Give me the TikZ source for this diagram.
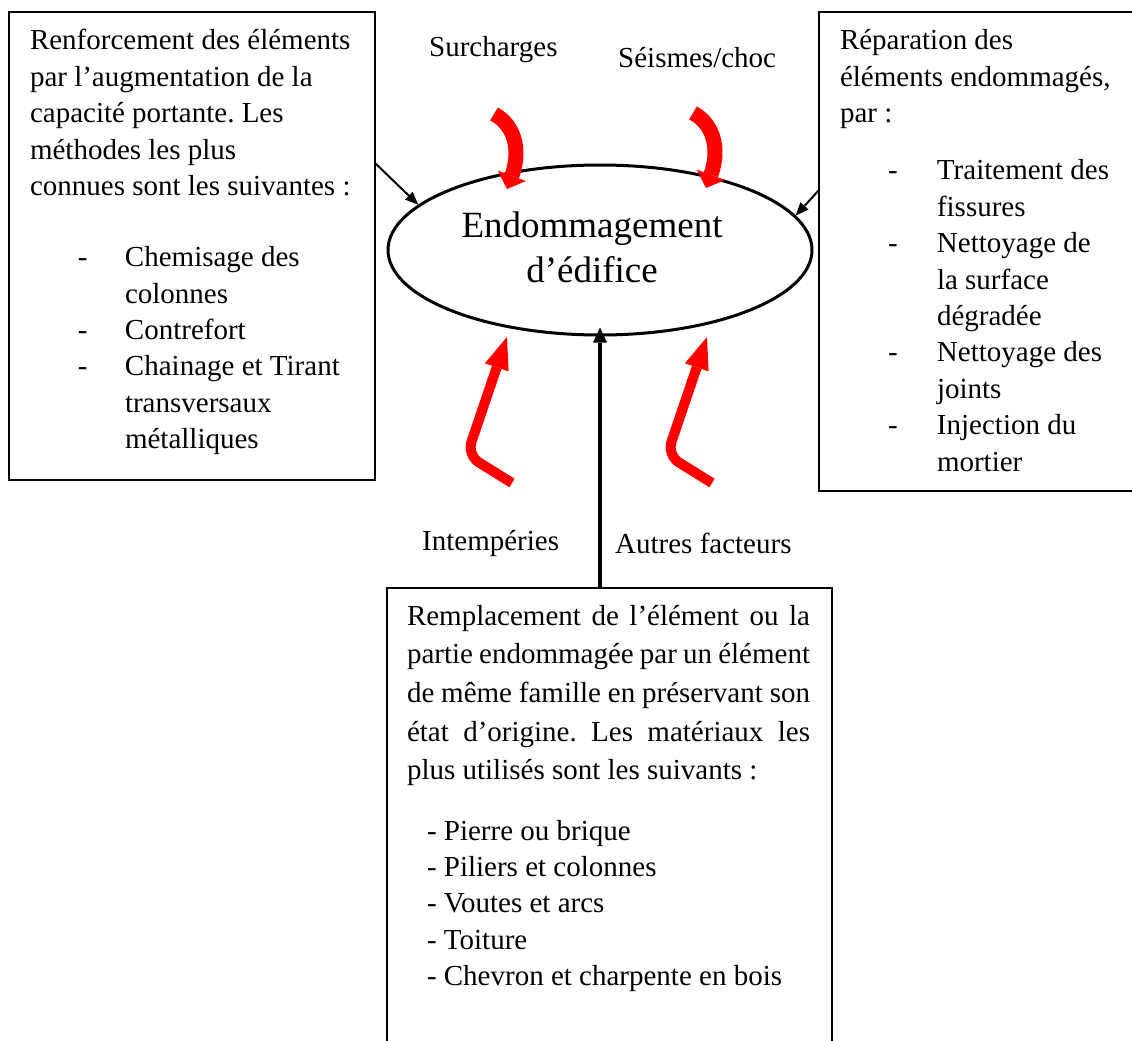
\documentclass[tikz,border=0pt]{standalone}
\usepackage{fontspec}
\setmainfont{Liberation Serif}
\usetikzlibrary{shapes.geometric,arrows.meta}
\tikzset{
  txt/.style={inner sep=0pt, font=\fontsize{29}{36.4}\selectfont},
  bigtxt/.style={inner sep=0pt, font=\fontsize{37}{45}\selectfont},
  box/.style={draw=black, rectangle, inner sep=0pt, outer sep=0pt, anchor=north west, font=\fontsize{29}{36.4}\selectfont},
  blkarrow/.style={draw=black, line width=2pt, -{Triangle[length=13pt,width=11pt,line width=0pt]}},
  vertarrow/.style={draw=black, line width=3.5pt, -{Triangle[length=15pt,width=14pt,line width=0pt]}},
  redcurve/.style={draw=red, line width=15pt, -{Triangle[length=14pt,width=30pt,line width=0pt]}},
  redbent/.style={draw=red, line width=10pt, rounded corners=14pt, -{Triangle[length=32pt,width=25pt,line width=0pt]}}
}
\begin{document}
\begin{tikzpicture}[x=1pt,y=-1pt]
\clip (0,0) rectangle (1132,1041);
\fill[white] (0,0) rectangle (1132,1041);

% central ellipse
\node[ellipse, draw=black, line width=3pt, minimum width=424pt, minimum height=170pt, inner sep=0pt] (ell) at (600,250) {};
\node[bigtxt, anchor=base] (ellA) at (592,237) {Endommagement};
\node[bigtxt, anchor=base] (ellB) at (592,282) {d’édifice};

% left box
\node[box, line width=1.2pt] (lbox) at (9,12) {\parbox[t][468pt][t]{366pt}{\raggedright\leftskip=21pt\frenchspacing
\rule{0pt}{38pt}Renforcement des éléments\\
par l’augmentation de la\\
capacité portante. Les\\
méthodes les plus\\
connues sont les suivantes :\\[34.6pt]
\makebox[95pt][l]{\hspace{48pt}-}Chemisage des\\
\hspace*{95pt}colonnes\\
\makebox[95pt][l]{\hspace{48pt}-}Contrefort\\
\makebox[95pt][l]{\hspace{48pt}-}Chainage et Tirant\\
\hspace*{95pt}transversaux\\
\hspace*{95pt}métalliques}};

% right box
\node[box, line width=2.2pt] (rbox) at (819,12) {\parbox[t][479pt][t]{340pt}{\raggedright\leftskip=21pt\frenchspacing
\rule{0pt}{38pt}Réparation des\\
éléments endommagés,\\
par :\\[20.8pt]
\makebox[97pt][l]{\hspace{48pt}-}Traitement des\\
\hspace*{97pt}fissures\\
\makebox[97pt][l]{\hspace{48pt}-}Nettoyage de\\
\hspace*{97pt}la surface\\
\hspace*{97pt}dégradée\\
\makebox[97pt][l]{\hspace{48pt}-}Nettoyage des\\
\hspace*{97pt}joints\\
\makebox[97pt][l]{\hspace{48pt}-}Injection du\\
\hspace*{97pt}mortier}};

% bottom box
\node[box, line width=1.3pt] (bbox) at (387,588) {\parbox[t][480pt][t]{445pt}{\raggedright\leftskip=20pt\frenchspacing
\rule{0pt}{37pt}\makebox[403pt][s]{Remplacement de l’élément ou la}\\[2.3pt]
\makebox[403pt][s]{partie endommagée par un élément}\\[2.3pt]
\makebox[403pt][s]{de même famille en préservant son}\\[2.3pt]
\makebox[403pt][s]{état d’origine. Les matériaux les}\\[2.3pt]
plus utilisés sont les suivants :\\[23.8pt]
\hspace*{20pt}- Pierre ou brique\\
\hspace*{20pt}- Piliers et colonnes\\
\hspace*{20pt}- Voutes et arcs\\
\hspace*{20pt}- Toiture\\
\hspace*{20pt}- Chevron et charpente en bois}};

% factor labels
\node[txt, anchor=base west] (lsur) at (429,57) {Surcharges};
\node[txt, anchor=base west] (lsei) at (618,67) {Séismes/choc};
\node[txt, anchor=base west] (lint) at (422,550) {Intempéries};
\node[txt, anchor=base west] (laut) at (615,553) {Autres facteurs};

% black connectors
\draw[blkarrow] ([yshift=-151pt]lbox.north east) -- (ell.166);
\draw[blkarrow] ([yshift=-178pt]rbox.north west) -- (ell.10);
\draw[vertarrow] (ell.south |- bbox.north) -- ([yshift=9pt]ell.south);

% red factor arrows
\draw[redcurve] (494,114) .. controls (515,125) and (521,151) .. (507,189);
\draw[redcurve] (693,113) .. controls (714,124) and (720,150) .. (706,188);
\draw[redbent] (512,483) -- (467,455) -- (507,337);
\draw[redbent] (712,483) -- (667,455) -- (707,337);
\end{tikzpicture}
\end{document}
